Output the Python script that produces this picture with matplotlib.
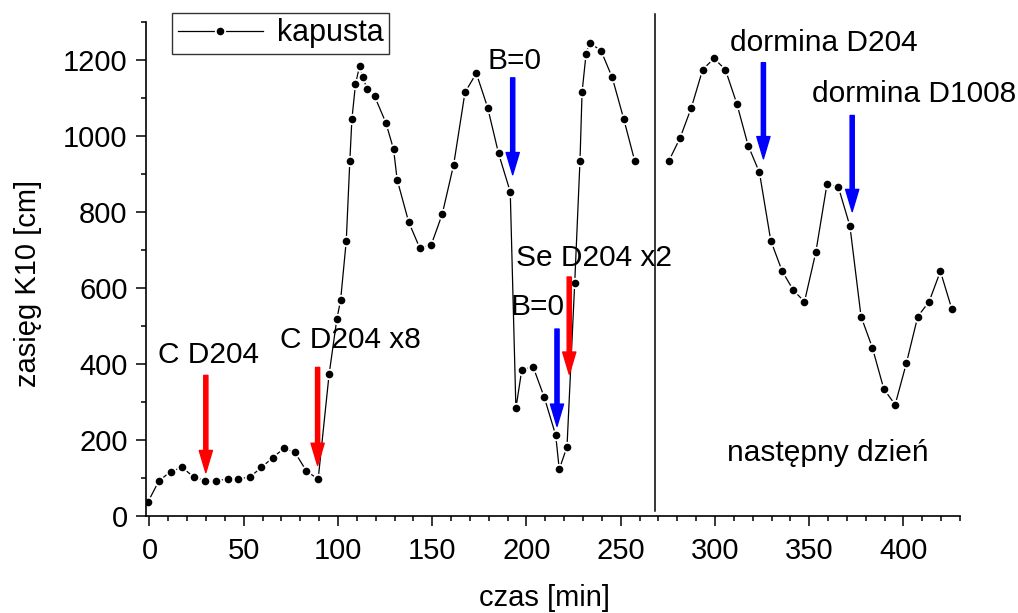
import matplotlib
matplotlib.use('Agg')
import matplotlib.pyplot as plt
from matplotlib.ticker import MultipleLocator

plt.rcParams['font.family'] = ['Liberation Sans', 'DejaVu Sans']

# first day
czas_1 = [-0.7, 5.1, 11.3, 17.3, 23.4, 29.5, 35.4, 41.4, 47.2, 53.4, 59.4, 65.3,
          71.3, 77.1, 83.3, 89.5, 95.3, 99.4, 101.4, 104.4, 106.3, 107.4, 109.3,
          111.5, 113.2, 115.3, 119.4, 125.4, 129.5, 131.4, 137.5, 143.5, 149.5,
          155.3, 161.4, 167.4, 173.4, 179.4, 185.2, 191.4, 194.4, 197.5, 203.5,
          209.4, 215.5, 217.4, 221.5, 225.6, 228.4, 229.5, 231.6, 233.5, 239.5,
          245.5, 251.6, 257.4]
zasieg_1 = [38, 93, 117, 128, 103, 93, 93, 97, 97, 103, 128, 153,
            178, 168, 118, 97, 373, 518, 568, 724, 935, 1045, 1136,
            1185, 1155, 1125, 1105, 1035, 965, 885, 774, 704, 714,
            794, 925, 1115, 1165, 1075, 954, 853, 283, 384, 393,
            313, 213, 123, 182, 613, 935, 1115, 1215, 1245, 1225,
            1154, 1045, 935]

# next day
czas_2 = [275.6, 281.5, 287.5, 293.5, 299.5, 305.5, 311.6, 317.6, 323.6, 329.6,
          335.6, 341.6, 347.5, 353.5, 359.5, 365.5, 371.6, 377.5, 383.5, 389.6,
          395.6, 401.6, 407.6, 413.6, 419.6, 425.7]
zasieg_2 = [935, 995, 1075, 1175, 1204, 1175, 1085, 975, 904, 725,
            645, 594, 564, 694, 875, 865, 763, 525, 443, 334,
            293, 403, 525, 564, 644, 544]

podzial_dnia = 268

# arrows: x, tail y, tip y, colour
strzalki_x = [29.9, 89.2, 192.7, 216.2, 222.7, 325.7, 372.8]
strzalki_od = [370, 391, 1153, 492, 629, 1193, 1054]
strzalki_do = [114, 133, 898, 236, 373, 940, 801]
strzalki_kolor = ['red', 'red', 'blue', 'blue', 'red', 'blue', 'blue']

# labels: text, x, y
opisy = ['C D204', 'C D204 x8', 'B=0', 'B=0', 'Se D204 x2',
         'dormina D204', 'dormina D1008', 'następny dzień']
opisy_x = [31.2, 106.8, 193.4, 206.0, 235.6, 358.0, 405.4, 360.0]
opisy_y = [424, 463, 1197, 550, 679, 1245, 1110, 166]

fig = plt.figure(figsize=(10.18, 6.13), dpi=100)
ax = fig.add_axes([145.7 / 1018, 1 - 516 / 613, (960 - 145.7) / 1018, (516 - 22) / 613])

styl = dict(color='black', lw=0.9, marker='o', ms=6.8, mfc='black',
            mec='white', mew=1.3)
linia, = ax.plot(czas_1, zasieg_1, label='kapusta', **styl)
ax.plot(czas_2, zasieg_2, **styl)

ax.plot([podzial_dnia, podzial_dnia], [12, 1322], color='black', lw=1.1, clip_on=False)

for x, y0, y1, c in zip(strzalki_x, strzalki_od, strzalki_do, strzalki_kolor):
    ax.annotate('', xy=(x, y1), xytext=(x, y0),
                arrowprops=dict(facecolor=c, edgecolor=c, width=3, headwidth=9.5,
                                headlength=16, shrink=0))

for t, x, y in zip(opisy, opisy_x, opisy_y):
    ax.text(x, y, t, fontsize=21.5, ha='center', va='center')

ax.set_xlim(-2, 430)
ax.set_ylim(0, 1300)
ax.xaxis.set_major_locator(MultipleLocator(50))
ax.xaxis.set_minor_locator(MultipleLocator(10))
ax.yaxis.set_major_locator(MultipleLocator(200))
ax.yaxis.set_minor_locator(MultipleLocator(100))

for s in ['top', 'right']:
    ax.spines[s].set_visible(False)
for s in ['left', 'bottom']:
    ax.spines[s].set_linewidth(1.2)

ax.tick_params(which='major', direction='out', length=7, width=1.1, labelsize=21)
ax.tick_params(axis='x', which='major', pad=8)
ax.tick_params(axis='y', which='major', pad=6)
ax.tick_params(which='minor', direction='out', length=3.8, width=1.1)

ax.set_xlabel('czas [min]', fontsize=21, va='center')
ax.set_ylabel('zasięg K10 [cm]', fontsize=21, va='center')
ax.xaxis.set_label_coords(0.49, -0.166)
ax.yaxis.set_label_coords(-0.1445, 0.47)

leg = fig.legend(handles=[linia], loc='upper left',
                 bbox_to_anchor=(172 / 1018, 1 - 13 / 613), borderaxespad=0,
                 fontsize=22, frameon=True, fancybox=False, handlelength=2.8,
                 borderpad=0.18, handletextpad=0.45)
leg.get_frame().set_edgecolor('black')
leg.get_frame().set_linewidth(1.0)

plt.savefig('out.png', dpi=100)
plt.close()
